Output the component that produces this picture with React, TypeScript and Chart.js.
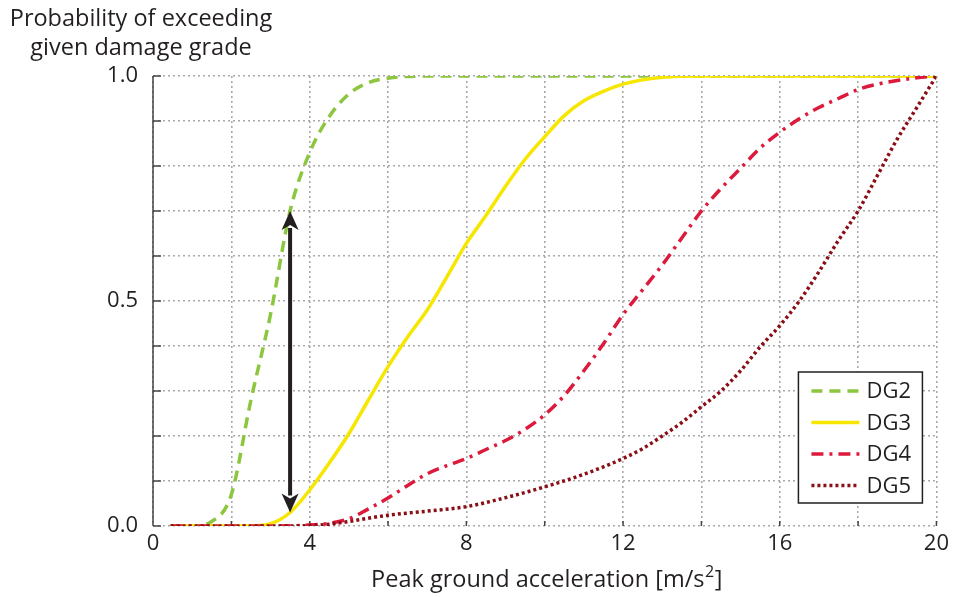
import React, { useEffect, useRef } from "react";
import { Chart, registerables } from "chart.js";

Chart.register(...registerables);

const FONT = "'Open Sans'";

const dg2X = [0.45, 1, 1.5, 2, 2.5, 3, 3.5, 4, 4.5, 5, 5.5, 6, 7, 8, 10, 12, 14, 16, 18, 20];
const dg2Y = [0, 0, 0.01, 0.07, 0.28, 0.47, 0.7, 0.83, 0.91, 0.96, 0.985, 0.995, 1, 1, 1, 1, 1, 1, 1, 1];

const dg3X = [0.45, 1, 2, 2.5, 3, 3.5, 4, 4.5, 5, 5.5, 6, 6.5, 7, 7.5, 8, 8.5, 9, 9.5, 10, 10.5, 11, 11.5, 12, 13, 14, 16, 18, 20];
const dg3Y = [0, 0, 0, 0, 0.005, 0.03, 0.08, 0.14, 0.205, 0.28, 0.354, 0.42, 0.48, 0.553, 0.628, 0.69, 0.755, 0.815, 0.865, 0.912, 0.945, 0.966, 0.982, 0.997, 1, 1, 1, 1];

const dg4X = [0.45, 1, 2, 3, 4, 4.5, 5, 5.5, 6, 6.5, 7, 7.5, 8, 8.5, 9, 9.5, 10, 10.5, 11, 11.5, 12, 12.5, 13, 13.5, 14, 14.5, 15, 15.5, 16, 16.5, 17, 17.5, 18, 18.5, 19, 19.5, 20];
const dg4Y = [0, 0, 0, 0, 0.002, 0.006, 0.016, 0.038, 0.062, 0.09, 0.116, 0.134, 0.15, 0.17, 0.19, 0.215, 0.247, 0.29, 0.345, 0.405, 0.47, 0.525, 0.58, 0.64, 0.7, 0.75, 0.795, 0.84, 0.875, 0.905, 0.93, 0.95, 0.97, 0.982, 0.99, 0.996, 1];

const dg5X = [0.45, 1, 2, 3, 4, 4.5, 5, 6, 7, 8, 9, 10, 11, 12, 12.5, 13, 13.5, 14, 14.5, 15, 15.5, 16, 16.5, 17, 17.5, 18, 18.5, 19, 19.5, 20];
const dg5Y = [0, 0, 0, 0, 0.001, 0.004, 0.01, 0.024, 0.033, 0.043, 0.063, 0.087, 0.115, 0.15, 0.172, 0.2, 0.23, 0.265, 0.3, 0.345, 0.398, 0.445, 0.5, 0.565, 0.635, 0.7, 0.78, 0.86, 0.93, 1];

const seriesNames = ["DG2", "DG3", "DG4", "DG5"];
const seriesColors = ["#8cc63f", "#f7e600", "#dc1a3c", "#8b0f16"];
const seriesDash = [[11, 7], [], [12, 6, 3, 6], [3, 3]];

const xTickLabels = ["0", "4", "8", "12", "16", "20"];
const yTickLabels = ["0.0", "0.5", "1.0"];
const yTitleLines = ["Probability of exceeding", "given damage grade"];
const xTitleMain = "Peak ground acceleration [m/s";
const xTitleSup = "2";
const xTitleEnd = "]";

const arrowX = 3.5;
const arrowY = [0.03, 0.7];

const toPts = (xs: number[], ys: number[]) => xs.map((x, i) => ({ x, y: ys[i] }));

export default function App() {
  const ref = useRef<HTMLCanvasElement | null>(null);
  useEffect(() => {
    if (!ref.current) return;
    const allX = [dg2X, dg3X, dg4X, dg5X];
    const allY = [dg2Y, dg3Y, dg4Y, dg5Y];

    const overlay = {
      id: "overlay",
      beforeDatasetsDraw(chart: any) {
        const { ctx, chartArea: a, scales } = chart;
        ctx.save();
        ctx.strokeStyle = "#444";
        ctx.lineWidth = 1.5;
        ctx.setLineDash([]);
        ctx.beginPath();
        ctx.moveTo(a.left, a.top);
        ctx.lineTo(a.left, a.bottom);
        ctx.stroke();
        for (let i = 0; i <= 10; i++) {
          const y = scales.y.getPixelForValue(i / 10);
          ctx.beginPath();
          ctx.moveTo(a.left, y);
          ctx.lineTo(a.left + 8, y);
          ctx.stroke();
        }
        for (let v = 2; v <= 20; v += 2) {
          const x = scales.x.getPixelForValue(v);
          ctx.beginPath();
          ctx.moveTo(x, a.bottom);
          ctx.lineTo(x, a.bottom - 5);
          ctx.stroke();
        }
        ctx.restore();
      },
      afterDatasetsDraw(chart: any) {
        const { ctx, chartArea: a, scales } = chart;
        ctx.save();
        // double arrow
        const ax = scales.x.getPixelForValue(arrowX);
        const y1 = scales.y.getPixelForValue(arrowY[0]);
        const y2 = scales.y.getPixelForValue(arrowY[1]);
        const head = 19;
        const hw = 8.5;
        ctx.strokeStyle = "#231f20";
        ctx.fillStyle = "#231f20";
        ctx.lineWidth = 4;
        ctx.setLineDash([]);
        ctx.beginPath();
        ctx.moveTo(ax, y2 + head - 2);
        ctx.lineTo(ax, y1 - head + 2);
        ctx.stroke();
        ctx.beginPath();
        ctx.moveTo(ax, y2);
        ctx.lineTo(ax - hw, y2 + head);
        ctx.lineTo(ax, y2 + head - 5);
        ctx.lineTo(ax + hw, y2 + head);
        ctx.closePath();
        ctx.fill();
        ctx.beginPath();
        ctx.moveTo(ax, y1);
        ctx.lineTo(ax - hw, y1 - head);
        ctx.lineTo(ax, y1 - head + 5);
        ctx.lineTo(ax + hw, y1 - head);
        ctx.closePath();
        ctx.fill();

        // legend
        const bw = 124;
        const bh = 131;
        const bx = a.right - 14 - bw;
        const by = a.bottom - 23 - bh;
        ctx.fillStyle = "#ffffff";
        ctx.fillRect(bx, by, bw, bh);
        ctx.strokeStyle = "#231f20";
        ctx.lineWidth = 1.5;
        ctx.strokeRect(bx, by, bw, bh);
        ctx.font = `22px ${FONT}`;
        ctx.textBaseline = "middle";
        ctx.textAlign = "left";
        for (let i = 0; i < seriesNames.length; i++) {
          const ly = by + 19 + i * 31.5;
          ctx.strokeStyle = seriesColors[i];
          ctx.lineWidth = 3.5;
          ctx.setLineDash(seriesDash[i]);
          ctx.beginPath();
          ctx.moveTo(bx + 13, ly);
          ctx.lineTo(bx + 61, ly);
          ctx.stroke();
          ctx.setLineDash([]);
          ctx.fillStyle = "#231f20";
          ctx.fillText(seriesNames[i], bx + 68, ly + 1);
        }

        // y title (top-left)
        ctx.font = `23.5px ${FONT}`;
        ctx.textAlign = "center";
        ctx.fillStyle = "#231f20";
        ctx.fillText(yTitleLines[0], 141, 19);
        ctx.fillText(yTitleLines[1], 141, 48);

        // x title with superscript
        const cx = (a.left + a.right) / 2 + 2;
        const baseY = 587;
        ctx.textBaseline = "alphabetic";
        ctx.textAlign = "left";
        ctx.font = `23.5px ${FONT}`;
        const w1 = ctx.measureText(xTitleMain).width;
        const w3 = ctx.measureText(xTitleEnd).width;
        ctx.font = `16px ${FONT}`;
        const w2 = ctx.measureText(xTitleSup).width;
        const total = w1 + w2 + 1 + w3;
        let tx = cx - total / 2;
        ctx.font = `23.5px ${FONT}`;
        ctx.fillText(xTitleMain, tx, baseY);
        tx += w1 + 0.5;
        ctx.font = `16px ${FONT}`;
        ctx.fillText(xTitleSup, tx, baseY - 10);
        tx += w2 + 0.5;
        ctx.font = `23.5px ${FONT}`;
        ctx.fillText(xTitleEnd, tx, baseY);
        ctx.restore();
      },
    };

    const chart = new Chart(ref.current, {
      type: "line",
      data: {
        datasets: seriesNames.map((name, i) => ({
          label: name,
          data: toPts(allX[i], allY[i]),
          borderColor: seriesColors[i],
          backgroundColor: seriesColors[i],
          borderWidth: 3.5,
          borderDash: seriesDash[i],
          pointRadius: 0,
          fill: false,
          tension: 0.4,
          cubicInterpolationMode: "monotone" as const,
          order: seriesNames.length - 1 - i,
        })),
      },
      options: {
        animation: false,
        responsive: false,
        layout: { padding: { left: 0, right: 15, top: 76, bottom: 0 } },
        plugins: {
          legend: { display: false },
          tooltip: { enabled: false },
          title: { display: false },
        },
        scales: {
          x: {
            type: "linear",
            min: 0,
            max: 20,
            afterFit: (s: any) => {
              s.height = 71;
            },
            ticks: {
              stepSize: 2,
              autoSkip: false,
              maxRotation: 0,
              padding: 5,
              color: "#231f20",
              font: { family: FONT, size: 22 },
              callback: (v: any) => {
                const s = String(Math.round(Number(v)));
                return xTickLabels.includes(s) ? s : "";
              },
            },
            grid: { color: "#a9a9a9", lineWidth: 1.6, drawTicks: false },
            border: { display: false, dash: [2, 3] },
          },
          y: {
            type: "linear",
            min: 0,
            max: 1,
            afterFit: (s: any) => {
              s.width = 153;
            },
            ticks: {
              stepSize: 0.1,
              autoSkip: false,
              padding: 15,
              color: "#231f20",
              font: { family: FONT, size: 22 },
              callback: (v: any) => {
                const s = Number(v).toFixed(1);
                return yTickLabels.includes(s) ? s : "";
              },
            },
            grid: { color: "#a9a9a9", lineWidth: 1.6, drawTicks: false },
            border: { display: false, dash: [2, 3] },
          },
        },
      },
      plugins: [overlay],
    });
    return () => chart.destroy();
  }, []);

  return (
    <div style={{ position: "absolute", left: 0, top: 0, width: 954, height: 597, background: "#fff" }}>
      <canvas ref={ref} width={954} height={597} style={{ display: "block" }} />
    </div>
  );
}
